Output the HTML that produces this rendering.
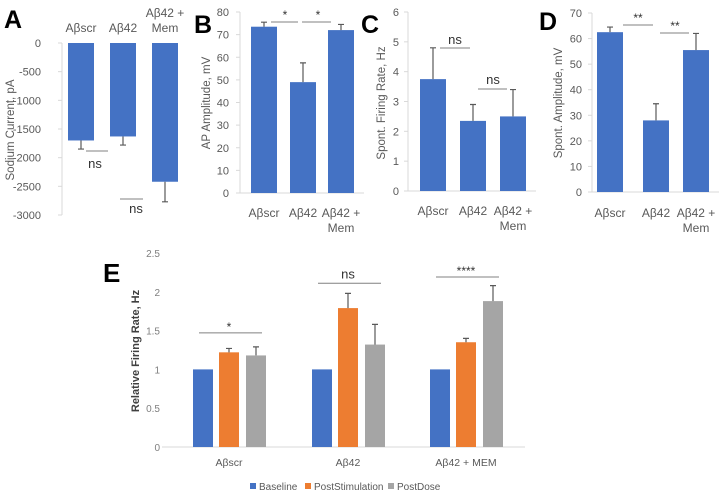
<!DOCTYPE html>
<html><head><meta charset="utf-8"><style>
body{margin:0;background:#fff;}
svg{display:block;font-family:"Liberation Sans",sans-serif;}
</style></head><body>
<svg id="fig" width="720" height="494" viewBox="0 0 720 494"></svg>
<script>
// Panel A
const catsA=["Aβscr","Aβ42","Aβ42 + Mem"];
const valsA=[-1700,-1630,-2420];
const errA=[-1850,-1780,-2770];
const ticksA=[0,-500,-1000,-1500,-2000,-2500,-3000];
// Panel B
const valsB=[73.5,49,72];
const errB=[75.5,57.5,74.5];
const ticksB=[0,10,20,30,40,50,60,70,80];
// Panel C
const valsC=[3.75,2.35,2.5];
const errC=[4.8,2.9,3.4];
const ticksC=[0,1,2,3,4,5,6];
// Panel D
const valsD=[62.5,28,55.5];
const errD=[64.5,34.5,62];
const ticksD=[0,10,20,30,40,50,60,70];
// Panel E
const catsE=["Aβscr","Aβ42","Aβ42 + MEM"];
const seriesE=["Baseline","PostStimulation","PostDose"];
const baseE=[1,1,1];
const stimE=[1.22,1.79,1.35];
const doseE=[1.18,1.32,1.88];
const stimErrE=[1.27,1.98,1.4];
const doseErrE=[1.29,1.58,2.08];
const ticksE=[0,0.5,1,1.5,2,2.5];
const sigE=["*","ns","****"];
const sigLevelE=[1.47,2.11,2.19];

const NS="http://www.w3.org/2000/svg";
const svg=document.getElementById('fig');
const BLUE="#4472c4",ORANGE="#ed7d31",GRAY="#a5a5a5",TXT="#595959";
function el(tag,attrs,parent){const e=document.createElementNS(NS,tag);for(const k in attrs)e.setAttribute(k,attrs[k]);(parent||svg).appendChild(e);return e;}
function txt(s,attrs,parent){const e=el('text',attrs,parent);e.textContent=s;return e;}

function panel(o){
  const g=el('g',{});
  
  
  const y=v=>o.y0+(v-o.vmin)/(o.vmax-o.vmin)*(o.y1-o.y0);
  const ax=el('line',{x1:o.ax,x2:o.ax,y1:y(o.vmin),y2:y(o.vmax),stroke:"#d9d9d9","stroke-width":1},g);
  
  o.ticks.forEach(t=>{
    el('line',{x1:o.ax-4,x2:o.ax,y1:y(t),y2:y(t),stroke:"#d9d9d9"},g);
    const tl=txt(String(t),{x:o.tickX,y:y(t)+4,"text-anchor":"end","font-size":11,fill:TXT},g);
    
  });
  if(o.baseline){const bl=el('line',{x1:o.ax,x2:o.bx[2]+o.bw+10,y1:y(0),y2:y(0),stroke:"#d9d9d9"},g);
    }
  o.vals.forEach((v,i)=>{
    const top=Math.min(y(0),y(v)),h=Math.abs(y(v)-y(0));
    const r=el('rect',{x:o.bx[i],y:top,width:o.bw,height:h,fill:BLUE},g);
    
    const cx=o.bx[i]+o.bw/2;
    const e=el('path',{d:`M${cx},${y(v)}V${y(o.err[i])}M${cx-3},${y(o.err[i])}H${cx+3}`,stroke:"#595959","stroke-width":1.2,fill:"none"},g);
    
    const lines=catsA[i].split(' + ');
    if(lines.length>1){
      const a=txt(lines[0]+' +',{x:cx,y:o.ly,"text-anchor":"middle","font-size":12,fill:TXT},g);
      
      const b=txt('Mem',{x:cx,y:o.ly+15,"text-anchor":"middle","font-size":12,fill:TXT},g);
      
      if(o.labelTop){a.setAttribute('y',o.ly-14);b.setAttribute('y',o.ly+1);}
    } else {
      const a=txt(lines[0],{x:cx,y:o.labelTop?o.ly+1:o.ly,"text-anchor":"middle","font-size":12,fill:TXT},g);
      
    }
  });
  const t=txt(o.title,{x:0,y:0,"text-anchor":"middle","font-size":11.5,fill:TXT,transform:`translate(${o.tx},${o.ty}) rotate(-90)`},g);
  
  const L=txt(o.letter,{x:o.lx,y:o.lyy,"font-size":25,"font-weight":"bold",fill:"#000"},g);
  
  o.sig.forEach(s=>{
    const l=el('line',{x1:s[0],x2:s[1],y1:s[2],y2:s[2],stroke:"#808080","stroke-width":1},g);
    
    const st=txt(s[3],{x:s[4],y:s[5],"text-anchor":"middle","font-size":s[3]==="ns"?13:12,fill:"#333"},g);
    
  });
}
panel({name:'panel-a',letter:'A',lx:4,lyy:28,vals:valsA,err:errA,ticks:ticksA,vmin:0,vmax:-3000,y0:43,y1:215,ax:62,tickX:41,bx:[68,110,152],bw:26,ly:31,labelTop:true,title:'Sodium Current, pA',tx:14,ty:130,
  sig:[[86,108,151,'ns',95,168],[120,143,199,'ns',136,213]]});
panel({name:'panel-b',letter:'B',lx:194,lyy:33,vals:valsB,err:errB,ticks:ticksB,vmin:0,vmax:80,y0:193,y1:12,ax:240,tickX:229,bx:[251,290,328],bw:26,ly:217,baseline:true,title:'AP Amplitude, mV',tx:210,ty:103,
  sig:[[271,298,22,'*',285,19],[302,331,22,'*',318,19]]});
panel({name:'panel-c',letter:'C',lx:361,lyy:33,vals:valsC,err:errC,ticks:ticksC,vmin:0,vmax:6,y0:191,y1:12,ax:408,tickX:399,bx:[420,460,500],bw:26,ly:215,baseline:true,title:'Spont. Firing Rate, Hz',tx:385,ty:103,
  sig:[[440,470,48,'ns',455,44],[478,507,89,'ns',493,84]]});
panel({name:'panel-d',letter:'D',lx:539,lyy:30,vals:valsD,err:errD,ticks:ticksD,vmin:0,vmax:70,y0:192,y1:13,ax:592,tickX:582,bx:[597,643,683],bw:26,ly:217,baseline:true,title:'Spont. Amplitude, mV',tx:562,ty:103,
  sig:[[623,653,25,'**',638,22],[660,689,33,'**',675,30]]});

// Panel E
(function(){
  const g=el('g',{});
  
  
  const y0=447,ytop=253,vmax=2.5;
  const y=v=>y0-(v/vmax)*(y0-ytop);
  const ax=el('line',{x1:162,x2:525,y1:y0,y2:y0,stroke:"#d9d9d9"},g);
  
  ticksE.forEach(t=>{
    const tl=txt(String(t),{x:160,y:y(t)+4,"text-anchor":"end","font-size":10,fill:"#7f7f7f"},g);
    
  });
  const groupX=[193,312,430], off=[0,26,53], bw=20, cols=[BLUE,ORANGE,GRAY];
  const series=[baseE,stimE,doseE], errs=[null,stimErrE,doseErrE];
  catsE.forEach((c,i)=>{
    series.forEach((s,j)=>{
      const x=groupX[i]+off[j];
      const r=el('rect',{x:x,y:y(s[i]),width:bw,height:y0-y(s[i]),fill:cols[j]},g);
      
      if(errs[j]){const cx=x+bw/2,ev=errs[j][i];
        const e=el('path',{d:`M${cx},${y(s[i])}V${y(ev)}M${cx-3},${y(ev)}H${cx+3}`,stroke:"#595959","stroke-width":1.2,fill:"none"},g);
        }
    });
    const cx=groupX[i]+off[1]+bw/2;
    const cl=txt(c,{x:cx,y:466,"text-anchor":"middle","font-size":10.5,fill:"#595959"},g);
    
    const ly=y(sigLevelE[i]);
    const l=el('line',{x1:groupX[i]+6,x2:groupX[i]+69,y1:ly,y2:ly,stroke:"#808080"},g);
    
    const st=txt(sigE[i],{x:cx,y:ly-(sigE[i]==='ns'?5:2),"text-anchor":"middle","font-size":sigE[i]==='ns'?13:12,fill:"#333"},g);
    
  });
  const t=txt('Relative Firing Rate, Hz',{x:0,y:0,"text-anchor":"middle","font-size":11,"font-weight":"bold",fill:"#404040",transform:'translate(139,351) rotate(-90)'},g);
  
  const L=txt('E',{x:103,y:282,"font-size":26,"font-weight":"bold",fill:"#000"},g);
  
  const lx=[250,305,388];
  seriesE.forEach((s,j)=>{
    const r=el('rect',{x:lx[j],y:483,width:6,height:6,fill:cols[j]},g);
    
    const lt=txt(s,{x:lx[j]+9,y:490,"font-size":10,fill:"#595959"},g);
    
  });
})();
</script>
</body></html>
